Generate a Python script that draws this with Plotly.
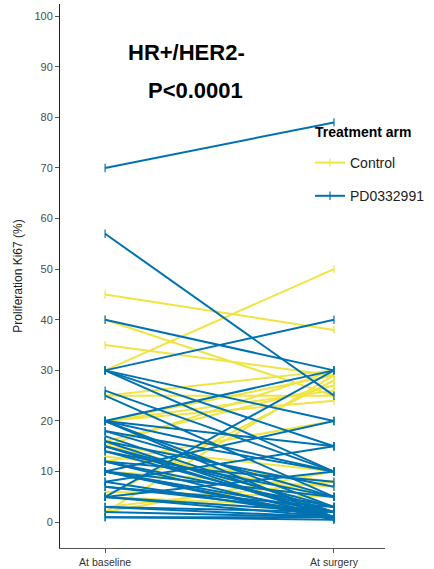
import plotly.graph_objects as go

# Data: Ki67 (%) at baseline and at surgery, per patient
timepoints = ["At baseline", "At surgery"]

control_baseline = [45, 40, 35, 30, 25, 25, 20, 20, 20, 16, 15, 15, 13, 12, 10, 10, 6, 5, 5, 5, 3, 2, 2, 15]
control_surgery  = [38, 25, 29, 50, 30, 25, 29, 26, 24, 27, 10, 30, 8, 20, 7, 5, 5, 28, 2, 3, 8, 10, 29, 5]

pd_baseline = [70, 57, 40, 30, 30, 30, 30, 26, 25, 20, 20, 20, 20, 18, 18, 17, 16, 15, 15, 14,
               14, 12, 12, 10, 10, 10, 10, 8, 8, 7, 7, 5, 5, 5, 5, 3, 3, 2, 1, 1, 20, 16, 12, 10]
pd_surgery  = [79, 25, 30, 40, 20, 10, 15, 10, 5, 30, 15, 10, 3, 10, 5, 2, 7, 3, 1, 5,
               2, 8, 1, 20, 5, 2, 1, 15, 1, 3, 2, 30, 10, 1, 2, 1, 2, 1, 0.5, 1, 1, 1, 3, 0.5]

series = [
    ("Control", control_baseline, control_surgery, "#F0E442"),
    ("PD0332991", pd_baseline, pd_surgery, "#0072B2"),
]


def segments(b, s):
    xs, ys = [], []
    for v0, v1 in zip(b, s):
        xs += [0, 1, None]
        ys += [v0, v1, None]
    return xs, ys


L, R, T, B = 60, 49, 4, 21
W, H = 434, 569
PW, PH = W - L - R, H - T - B


def px_x(x):
    return (x - L) / PW


def px_y(y):
    return (H - B - y) / PH


fig = go.Figure()
for name, b, s, col in series:
    xs, ys = segments(b, s)
    fig.add_trace(go.Scatter(
        x=xs, y=ys, mode="lines+markers", name=name,
        legendgroup=name,
        line=dict(color=col, width=2),
        marker=dict(symbol="line-ns-open", size=6, line=dict(color=col, width=1.2)),
        connectgaps=False,
    ))

fig.update_layout(
    width=W, height=H,
    margin=dict(l=L, r=R, t=T, b=B, autoexpand=False),
    plot_bgcolor="white", paper_bgcolor="white",
    font=dict(family="Liberation Sans, Arial, sans-serif", color="#4d4d4d"),
    showlegend=True,
    legend=dict(
        x=px_x(310), y=px_y(147), xanchor="left", yanchor="top",
        font=dict(size=14, color="#222222"),
        tracegroupgap=12,
        bgcolor="rgba(0,0,0,0)",
    ),
    annotations=[
        dict(text="<b>HR+/HER2-</b>", x=px_x(186), y=px_y(52), xref="paper", yref="paper",
             xanchor="center", yanchor="middle",
             showarrow=False, font=dict(size=22, color="black")),
        dict(text="<b>P<0.0001</b>", x=px_x(195), y=px_y(90), xref="paper", yref="paper",
             xanchor="center", yanchor="middle",
             showarrow=False, font=dict(size=22, color="black")),
        dict(text="<b>Treatment arm</b>", x=px_x(313), y=px_y(132), xref="paper", yref="paper",
             xanchor="left", yanchor="middle", showarrow=False, font=dict(size=14, color="black")),
    ],
)

fig.update_xaxes(
    range=[-0.197, 1.223], tickvals=[0, 1], ticktext=timepoints, automargin=False,
    showgrid=False, zeroline=False, showline=True, linecolor="#555555", linewidth=1,
    ticks="outside", ticklen=4, tickcolor="#555555", tickfont=dict(size=10.5, color="#333333"),
)
fig.update_yaxes(
    range=[-5.1, 102.4], tickvals=list(range(0, 101, 10)), automargin=False,
    title=dict(text="Proliferation Ki67 (%)", font=dict(size=12, color="#222222"), standoff=9),
    showgrid=False, zeroline=False, showline=True, linecolor="#222222", linewidth=1,
    ticks="outside", ticklen=4, tickcolor="#555555", tickfont=dict(size=11, color="#4d4d4d"),
)

fig.write_html("out.html", config={"displayModeBar": False},
               post_script="document.body.style.margin='0px';document.body.style.overflow='hidden';")
